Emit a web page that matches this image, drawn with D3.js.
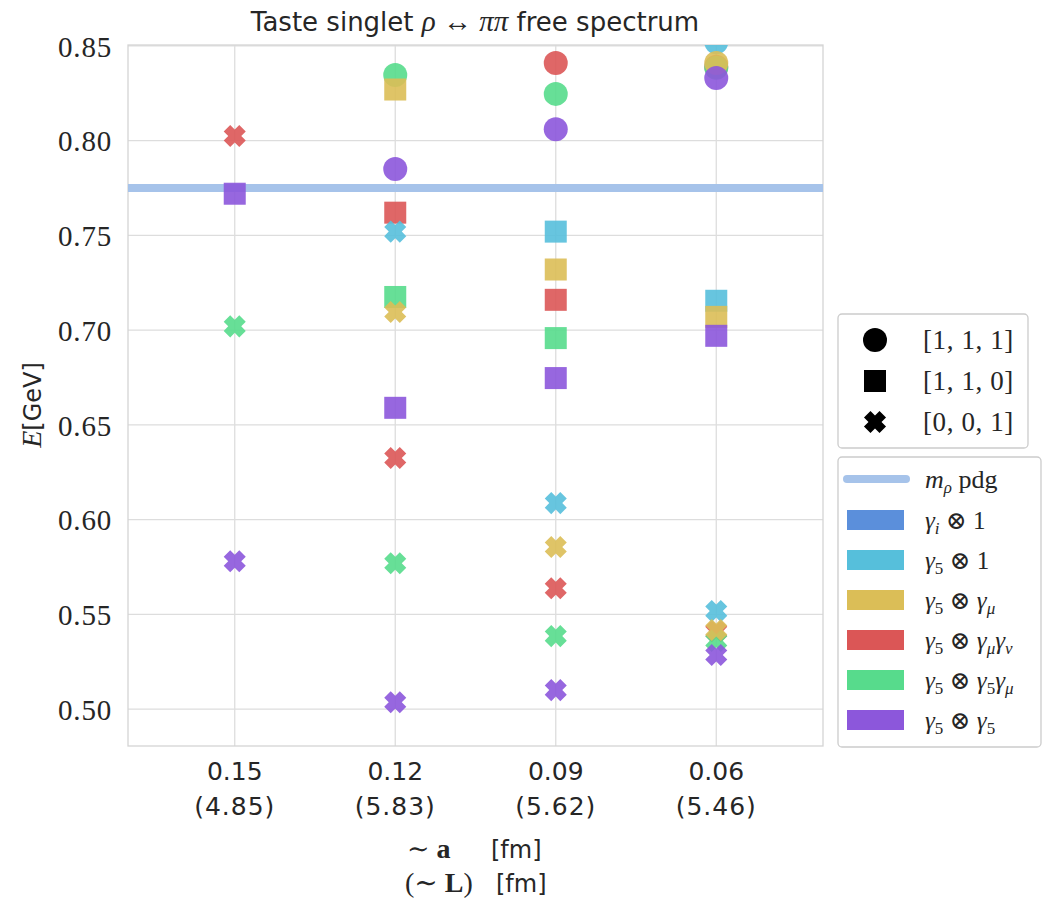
<!DOCTYPE html>
<html><head><meta charset="utf-8">
<script src="https://cdn.jsdelivr.net/npm/d3@7"></script>
<style>body{margin:0;background:#fff}</style>
</head><body><svg id="c" width="1043" height="906"></svg>
<script>
// ---------------- data ----------------
const spacings = ["0.15", "0.12", "0.09", "0.06"];
const boxSizes = ["(4.85)", "(5.83)", "(5.62)", "(5.46)"];
const yTicks = [0.50, 0.55, 0.60, 0.65, 0.70, 0.75, 0.80, 0.85];
const momenta = ["[1, 1, 1]", "[1, 1, 0]", "[0, 0, 1]"];
const momentumShapes = ["circle", "square", "cross"];
const seriesKeys = ["gi_1", "g5_1", "g5_gmu", "g5_gmugnu", "g5_g5gmu", "g5_g5"];
const seriesColors = ["#5b8fdb", "#56bfdb", "#dbbe57", "#db5656", "#57db8c", "#8c57db"];
const mRhoPdg = 0.775;

// energies per lattice spacing (null = no point shown)
const gi_1_p111 = [null, null, null, null];
const gi_1_p110 = [null, null, null, null];
const gi_1_p001 = [null, null, null, null];

const g5_1_p111 = [null, null, null, 0.852];
const g5_1_p110 = [null, null, 0.752, 0.7155];
const g5_1_p001 = [null, 0.752, 0.6087, 0.5517];

const g5_gmu_p111 = [null, null, null, 0.841];
const g5_gmu_p110 = [null, 0.827, 0.732, 0.707];
const g5_gmu_p001 = [null, 0.7096, 0.5855, 0.5417];

const g5_gmugnu_p111 = [null, null, 0.841, 0.839];
const g5_gmugnu_p110 = [null, 0.762, 0.716, null];
const g5_gmugnu_p001 = [0.8025, 0.6325, 0.5638, 0.541];

const g5_g5gmu_p111 = [null, 0.8347, 0.8247, 0.8385];
const g5_g5gmu_p110 = [null, 0.7175, 0.6958, null];
const g5_g5gmu_p001 = [0.702, 0.577, 0.5385, 0.536];

const g5_g5_p111 = [null, 0.785, 0.806, 0.8331];
const g5_g5_p110 = [0.772, 0.659, 0.6747, 0.697];
const g5_g5_p001 = [0.578, 0.5036, 0.51, 0.5285];

const seriesValues = [
  [gi_1_p111, gi_1_p110, gi_1_p001],
  [g5_1_p111, g5_1_p110, g5_1_p001],
  [g5_gmu_p111, g5_gmu_p110, g5_gmu_p001],
  [g5_gmugnu_p111, g5_gmugnu_p110, g5_gmugnu_p001],
  [g5_g5gmu_p111, g5_g5gmu_p110, g5_g5gmu_p001],
  [g5_g5_p111, g5_g5_p110, g5_g5_p001]
];
// legend labels: [text, style] pieces; style: r=roman, i=italic, sub=subscript italic, subr=subscript roman
const seriesLabels = [
  [["γ", "i"], ["i", "sub"], [" ⊗ 1", "r"]],
  [["γ", "i"], ["5", "subr"], [" ⊗ 1", "r"]],
  [["γ", "i"], ["5", "subr"], [" ⊗ ", "r"], ["γ", "i"], ["μ", "sub"]],
  [["γ", "i"], ["5", "subr"], [" ⊗ ", "r"], ["γ", "i"], ["μ", "sub"], ["γ", "i"], ["ν", "sub"]],
  [["γ", "i"], ["5", "subr"], [" ⊗ ", "r"], ["γ", "i"], ["5", "subr"], ["γ", "i"], ["μ", "sub"]],
  [["γ", "i"], ["5", "subr"], [" ⊗ ", "r"], ["γ", "i"], ["5", "subr"]]
];
const drawOrder = [0, 3, 1, 4, 2, 5];

// ---------------- layout ----------------
const svg = d3.select("#c");
const L = 128, R = 823, T = 45, B = 746;
const SERIF = "'Liberation Serif', 'DejaVu Serif', serif";
const SANS = "'DejaVu Sans', sans-serif";
const TXT = "#262626";

const x = d3.scalePoint().domain(spacings).range([L, R]).padding(0.665);
const y = d3.scaleLinear().domain([0.4805, 0.8505]).range([B, T]);

svg.append("defs").append("clipPath").attr("id", "clip")
  .append("rect").attr("x", L).attr("y", T).attr("width", R - L).attr("height", B - T);

// grid
const grid = svg.append("g");
grid.selectAll("line.h").data(yTicks).join("line")
  .attr("x1", L).attr("x2", R).attr("y1", d => y(d)).attr("y2", d => y(d))
  .attr("stroke", "#dddddd").attr("stroke-width", 1.3);
grid.selectAll("line.v").data(spacings).join("line")
  .attr("y1", T).attr("y2", B).attr("x1", d => x(d)).attr("x2", d => x(d))
  .attr("stroke", "#dddddd").attr("stroke-width", 1.3);

// frame
svg.append("rect").attr("x", L).attr("y", T).attr("width", R - L).attr("height", B - T)
  .attr("fill", "none").attr("stroke", "#d4d4d4").attr("stroke-width", 1.3);

// y axis tick labels (via d3 axis)
const yAxis = svg.append("g").attr("transform", `translate(${L},0)`)
  .call(d3.axisLeft(y).tickValues(yTicks).tickFormat(d3.format(".2f")).tickSize(0).tickPadding(16));
yAxis.select(".domain").remove();
yAxis.selectAll("text").attr("font-family", SERIF).attr("font-size", 29).attr("fill", TXT)
  .attr("letter-spacing", 0.8).attr("dy", "0.35em");

// x tick labels
const xAxis = svg.append("g");
xAxis.selectAll("text.a").data(spacings).join("text")
  .attr("x", d => x(d)).attr("y", 780).attr("text-anchor", "middle")
  .attr("font-family", SANS).attr("font-size", 25).attr("fill", TXT).text(d => d);
xAxis.selectAll("text.b").data(spacings).join("text")
  .attr("x", d => x(d)).attr("y", 815).attr("text-anchor", "middle")
  .attr("font-family", SANS).attr("font-size", 25).attr("letter-spacing", 1).attr("fill", TXT)
  .text((d, i) => boxSizes[i]);

// m_rho line
const plot = svg.append("g").attr("clip-path", "url(#clip)");
plot.append("line").attr("x1", L).attr("x2", R).attr("y1", y(mRhoPdg)).attr("y2", y(mRhoPdg))
  .attr("stroke", "#a6c3ea").attr("stroke-width", 8);

// markers
function crossPath(h, a) {
  const pts = [[-a,-h],[a,-h],[a,-a],[h,-a],[h,a],[a,a],[a,h],[-a,h],[-a,a],[-h,a],[-h,-a],[-a,-a]];
  const c = Math.SQRT1_2;
  return "M" + pts.map(([px, py]) => [(px - py) * c, (px + py) * c].map(v => v.toFixed(2)).join(",")).join("L") + "Z";
}
function drawMarker(g, shape, cx, cy, color, op) {
  if (shape === "circle") {
    g.append("circle").attr("cx", cx).attr("cy", cy).attr("r", 12).attr("fill", color).attr("opacity", op);
  } else if (shape === "square") {
    g.append("rect").attr("x", cx - 11).attr("y", cy - 11).attr("width", 22).attr("height", 22)
      .attr("fill", color).attr("opacity", op);
  } else {
    g.append("path").attr("d", crossPath(11, 4.6)).attr("transform", `translate(${cx},${cy})`)
      .attr("fill", color).attr("opacity", op);
  }
}
momentumShapes.forEach((shape, si) => {
  drawOrder.forEach(k => {
    seriesValues[k][si].forEach((v, j) => {
      if (v === null) return;
      drawMarker(plot, shape, x(spacings[j]), y(v), seriesColors[k], 0.9);
    });
  });
});

// title
const title = svg.append("text").attr("x", 475).attr("y", 31).attr("text-anchor", "middle")
  .attr("font-family", SANS).attr("font-size", 26).attr("fill", TXT);
title.append("tspan").text("Taste singlet ");
title.append("tspan").attr("font-family", SERIF).attr("font-style", "italic").attr("font-size", 29).text("ρ");
title.append("tspan").attr("font-family", SERIF).attr("font-size", 29).text(" ↔ ");
title.append("tspan").attr("font-family", SERIF).attr("font-style", "italic").attr("font-size", 29).text("ππ");
title.append("tspan").text(" free spectrum");

// y label
const yl = svg.append("text").attr("transform", "translate(41,405) rotate(-90)").attr("text-anchor", "middle")
  .attr("fill", TXT);
yl.append("tspan").attr("font-family", SERIF).attr("font-style", "italic").attr("font-size", 28).text("E");
yl.append("tspan").attr("font-family", SANS).attr("font-size", 24).text("[GeV]");

// x label
const xl1 = svg.append("text").attr("y", 858).attr("fill", TXT);
xl1.append("tspan").attr("x", 407).attr("font-family", SERIF).attr("font-size", 27).text("∼ ");
xl1.append("tspan").attr("font-family", SERIF).attr("font-weight", "bold").attr("font-size", 28).text("a");
xl1.append("tspan").attr("x", 491).attr("font-family", SANS).attr("font-size", 24).text("[fm]");
const xl2 = svg.append("text").attr("y", 892).attr("fill", TXT);
xl2.append("tspan").attr("x", 405).attr("font-family", SERIF).attr("font-size", 28).text("(∼ ");
xl2.append("tspan").attr("font-family", SERIF).attr("font-weight", "bold").attr("font-size", 28).text("L");
xl2.append("tspan").attr("font-family", SERIF).attr("font-size", 28).text(")");
xl2.append("tspan").attr("x", 496).attr("font-family", SANS).attr("font-size", 24).text("[fm]");

// legend 1: momenta
const lg1 = svg.append("g");
lg1.append("rect").attr("x", 838).attr("y", 314).attr("width", 190).attr("height", 134).attr("rx", 4)
  .attr("fill", "#fff").attr("stroke", "#cccccc").attr("stroke-width", 1.3);
momenta.forEach((m, i) => {
  const cy = 340 + i * 41;
  drawMarker(lg1, momentumShapes[i], 875, cy, "#000", 1);
  lg1.append("text").attr("x", 923).attr("y", cy).attr("dy", "0.35em")
    .attr("font-family", SERIF).attr("font-size", 27).attr("letter-spacing", 0.6).attr("fill", TXT).text(m);
});

// legend 2: series
const lg2 = svg.append("g");
lg2.append("rect").attr("x", 838).attr("y", 457).attr("width", 203).attr("height", 290).attr("rx", 4)
  .attr("fill", "#fff").attr("stroke", "#cccccc").attr("stroke-width", 1.3);
lg2.append("line").attr("x1", 847).attr("x2", 906).attr("y1", 479).attr("y2", 479)
  .attr("stroke", "#a6c3ea").attr("stroke-width", 8).attr("stroke-linecap", "round");
const mt = lg2.append("text").attr("x", 925).attr("y", 479).attr("dy", "0.35em")
  .attr("font-family", SERIF).attr("font-size", 26).attr("fill", TXT);
mt.append("tspan").attr("font-style", "italic").text("m");
mt.append("tspan").attr("font-style", "italic").attr("font-size", 17).attr("dy", 5).text("ρ");
mt.append("tspan").attr("dy", -5).text(" pdg");
seriesKeys.forEach((k, i) => {
  const cy = 520 + i * 40;
  lg2.append("rect").attr("x", 847).attr("y", cy - 10).attr("width", 57).attr("height", 20)
    .attr("fill", seriesColors[i]);
  const t = lg2.append("text").attr("x", 925).attr("y", cy).attr("dy", "0.35em")
    .attr("font-family", SERIF).attr("font-size", 25).attr("fill", TXT);
  let shifted = false;
  seriesLabels[i].forEach(([txt, st]) => {
    const sp = t.append("tspan").text(txt);
    const isSub = st === "sub" || st === "subr";
    if (st === "i" || st === "sub") sp.attr("font-style", "italic");
    if (txt.includes("⊗")) sp.attr("font-weight", 300);
    if (isSub) sp.attr("font-size", 17);
    if (isSub && !shifted) { sp.attr("dy", 5); shifted = true; }
    else if (!isSub && shifted) { sp.attr("dy", -5); shifted = false; }
  });
});
</script>
</body></html>
